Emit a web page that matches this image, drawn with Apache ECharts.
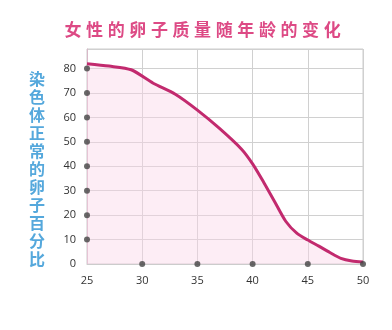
<!DOCTYPE html>
<html>
<head>
<meta charset="utf-8">
<script src="https://cdn.jsdelivr.net/npm/echarts@6/dist/echarts.min.js"></script>
<style>html,body{margin:0;padding:0;background:#fff}#c{width:392px;height:330px}</style>
</head>
<body>
<div id="c"></div>
<script>
var titleText = '女性的卵子质量随年龄的变化';
var yAxisTitle = '染色体正常的卵子百分比';
var ages = [25, 27, 29, 31, 33, 35, 37, 39, 40, 41, 42, 43, 44, 45, 46, 47, 48, 49, 50];
var percent = [82, 81, 79.5, 74, 69.5, 63, 55.5, 47, 41, 33.5, 25.5, 17.5, 12.6, 9.8, 7.3, 4.7, 2.3, 1.2, 0.8];
var xTicks = [30, 35, 40, 45, 50];
var yTicks = [10, 20, 30, 40, 50, 60, 70, 80];

var chart = echarts.init(document.getElementById('c'), null, {renderer: 'canvas'});
var lineData = ages.map(function (a, i) { return [a, percent[i]]; });
var dots = yTicks.map(function (v) { return [25, v]; }).concat(xTicks.map(function (v) { return [v, 0]; }));

var titleChars = titleText.split('').map(function (ch, i) {
  return {
    type: 'text',
    x: 73 + i * 21.6,
    y: 30,
    style: {
      text: ch, fill: '#dd4a85', font: 'bold 17px "Noto Sans CJK SC"',
      align: 'center', verticalAlign: 'middle'
    }
  };
});

chart.setOption({
  backgroundColor: '#fff',
  animation: false,
  graphic: titleChars.concat([{
    type: 'text',
    left: 29,
    top: 70,
    style: {
      text: yAxisTitle.split('').join('\n'),
      fill: '#55a8dc',
      font: 'bold 16px "Noto Sans CJK SC"',
      lineHeight: 18
    }
  }]),
  grid: {left: 87, right: 29, top: 49, bottom: 66, show: true, borderColor: '#cccccc', borderWidth: 1},
  xAxis: {
    type: 'value', min: 25, max: 50, interval: 5,
    axisLine: {show: true, lineStyle: {color: '#cccccc'}},
    axisTick: {show: false},
    splitLine: {show: true, lineStyle: {color: '#d0d0d0'}},
    axisLabel: {color: '#333', fontSize: 11, margin: 11, fontFamily: 'Open Sans'}
  },
  yAxis: {
    type: 'value', min: 0, max: 88, interval: 10,
    axisLine: {show: true, lineStyle: {color: '#d8b8c8'}},
    axisTick: {show: false},
    splitLine: {show: true, lineStyle: {color: '#d0d0d0'}},
    axisLabel: {color: '#333', fontSize: 11, margin: 11, fontFamily: 'Open Sans',
      showMaxLabel: false,
      formatter: function (v) { return v % 10 === 0 ? String(v) : ''; }}
  },
  series: [{
    type: 'line',
    data: lineData,
    smooth: 0.25,
    symbol: 'none',
    lineStyle: {color: '#c22a6e', width: 3},
    areaStyle: {color: 'rgba(250, 212, 230, 0.6)'},
    z: 2
  }, {
    type: 'scatter',
    data: dots,
    symbolSize: 6,
    itemStyle: {color: '#444'},
    z: 3
  }]
});
</script>
</body>
</html>
